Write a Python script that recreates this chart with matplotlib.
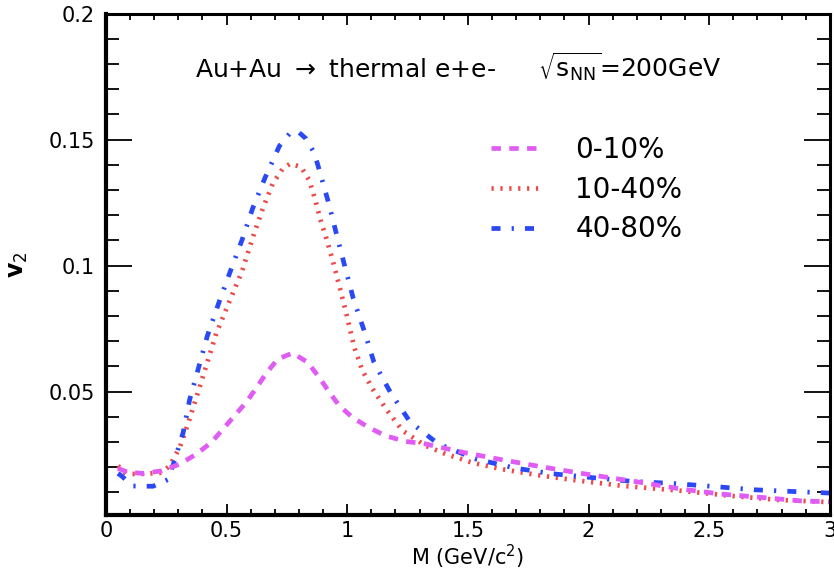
import matplotlib
matplotlib.use("Agg")
import matplotlib.pyplot as plt
from matplotlib.ticker import MultipleLocator, FuncFormatter

plt.rcParams['font.family'] = ['DejaVu Sans']
plt.rcParams['mathtext.fontset'] = 'dejavusans'
plt.rcParams['lines.scale_dashes'] = False   # dash lengths in points

# values
# 0-10% (magenta dashed)
m_cent = [0.05, 0.09, 0.153, 0.23, 0.306, 0.375, 0.437, 0.485, 0.533, 0.581, 0.623,
          0.664, 0.712, 0.774, 0.836, 0.884, 0.926, 0.967, 1.022, 1.09, 1.16, 1.242,
          1.325, 1.483, 1.649, 1.807, 1.972, 2.055, 2.22, 2.385, 2.55, 2.716, 2.88, 3.0]
v2_cent = [0.0195, 0.018, 0.0175, 0.0185, 0.0212, 0.0252, 0.0298, 0.0351, 0.0404, 0.0457, 0.0514,
           0.0572, 0.0629, 0.0653, 0.0616, 0.0556, 0.0497, 0.0444, 0.0397, 0.0357, 0.0324, 0.0302,
           0.0292, 0.0258, 0.0228, 0.0201, 0.0175, 0.0163, 0.0139, 0.0113, 0.0093, 0.008, 0.0066, 0.0062]

# 10-40% (red dotted)
m_mid = [0.05, 0.085, 0.153, 0.23, 0.264, 0.306, 0.34, 0.375, 0.416, 0.457, 0.505, 0.565,
         0.609, 0.65, 0.691, 0.733, 0.765, 0.809, 0.843, 0.868, 0.89, 0.912, 0.94, 0.967,
         0.995, 1.029, 1.063, 1.105, 1.163, 1.23, 1.325, 1.408, 1.517, 1.64, 1.806, 1.945,
         2.138, 2.385, 2.59, 2.785, 3.0]
v2_mid = [0.0205, 0.0173, 0.0173, 0.0178, 0.0205, 0.0278, 0.0372, 0.0477, 0.0603, 0.073, 0.0842, 0.098,
          0.1113, 0.1226, 0.1325, 0.1385, 0.1405, 0.1391, 0.1338, 0.1259, 0.1179, 0.1113, 0.102, 0.092,
          0.0815, 0.0676, 0.0583, 0.0511, 0.0428, 0.0344, 0.0285, 0.0252, 0.0218, 0.0192, 0.0166, 0.0148,
          0.0126, 0.0106, 0.0086, 0.0070, 0.0061]

# 40-80% (blue dash-dot)
m_periph = [0.05, 0.065, 0.11, 0.195, 0.256, 0.28, 0.32, 0.347, 0.384, 0.42, 0.467, 0.515,
            0.565, 0.608, 0.66, 0.719, 0.763, 0.795, 0.829, 0.864, 0.884, 0.921, 0.955, 0.99,
            1.025, 1.07, 1.111, 1.18, 1.26, 1.376, 1.53, 1.69, 1.847, 2.02, 2.186, 2.355,
            2.52, 2.69, 2.854, 3.0]
v2_periph = [0.0175, 0.0165, 0.0125, 0.0124, 0.015, 0.0213, 0.0337, 0.0468, 0.0595, 0.072, 0.085, 0.0976,
             0.1104, 0.1227, 0.135, 0.1475, 0.1526, 0.1533, 0.1504, 0.1446, 0.138, 0.1255, 0.1127, 0.0997,
             0.087, 0.0742, 0.0616, 0.0495, 0.038, 0.0293, 0.0233, 0.0197, 0.0174, 0.0158, 0.0143, 0.0135,
             0.0123, 0.011, 0.0103, 0.0097]

labels = ['0-10%', '10-40%', '40-80%']

fig = plt.figure(figsize=(8.34, 5.70), dpi=100)
ax = fig.add_axes([0.127, 0.0965, 0.868, 0.8795])

line_red, = ax.plot(m_mid, v2_mid, color='#f04848', lw=3.4, dashes=(1.6, 4.8),
                    dash_capstyle='butt', label=labels[1])
line_blue, = ax.plot(m_periph, v2_periph, color='#2a48f5', lw=3.4, dashes=(6.5, 8.0, 1.6, 8.0),
                     dash_capstyle='butt', label=labels[2])
line_mag, = ax.plot(m_cent, v2_cent, color='#e05cf5', lw=3.4, dashes=(6.8, 6.0),
                    dash_capstyle='butt', label=labels[0])

ax.set_xlim(0, 3)
ax.set_ylim(0.001, 0.2)

ax.xaxis.set_major_locator(MultipleLocator(0.5))
ax.xaxis.set_minor_locator(MultipleLocator(0.1))
ax.yaxis.set_major_locator(MultipleLocator(0.05))
ax.yaxis.set_minor_locator(MultipleLocator(0.01))
fmt = FuncFormatter(lambda v, p: '%g' % round(v, 3))
ax.xaxis.set_major_formatter(fmt)
ax.yaxis.set_major_formatter(fmt)

ax.tick_params(axis='both', which='both', direction='in', top=True, right=True,
               width=1.3, labelsize=15)
ax.tick_params(axis='y', which='major', length=19, pad=8)
ax.tick_params(axis='y', which='minor', length=9.5)
ax.tick_params(axis='x', which='major', length=8, pad=4.5)
ax.tick_params(axis='x', which='minor', length=4.5)

for side in ['left', 'bottom']:
    ax.spines[side].set_linewidth(3.0)
for side in ['top', 'right']:
    ax.spines[side].set_linewidth(2.2)

ax.set_xlabel('M (GeV/c$^{2}$)', fontsize=15)
ax.xaxis.set_label_coords(0.5, -0.056)
ax.set_ylabel('v$_{2}$', fontsize=17, fontweight='bold')
ax.yaxis.set_label_coords(-0.105, 0.5)

ax.text(0.123, 0.873, 'Au+Au $\\rightarrow$ thermal e+e-', transform=ax.transAxes,
        fontsize=18, ha='left', va='baseline')
ax.text(0.597, 0.873, '$\\sqrt{\\mathregular{s}_{\\mathregular{NN}}}$=200GeV', transform=ax.transAxes,
        fontsize=18, ha='left', va='baseline')

leg = ax.legend(handles=[line_mag, line_red, line_blue], loc='upper left',
                bbox_to_anchor=(0.516, 0.778), frameon=False, fontsize=20,
                handlelength=1.9, handletextpad=1.15, labelspacing=0.42,
                borderpad=0.4, borderaxespad=0)

fig.savefig('out.png', dpi=100)
